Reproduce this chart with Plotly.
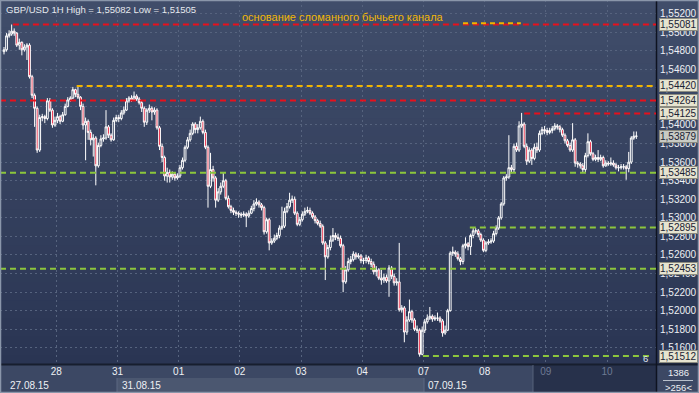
import plotly.graph_objects as go

# ---------------- data ----------------
title_text = "GBP/USD 1H High = 1,55082 Low = 1,51505"
note_text = "основание сломанного бычьего канала"

first_open = 1.5479
close = [
    1.5481, 1.5496, 1.5498, 1.5501, 1.5499, 1.5486, 1.5489, 1.5481, 1.5484, 1.5486,
    1.5452, 1.5432, 1.5418, 1.5373, 1.5408, 1.5409, 1.5407, 1.5426, 1.5416, 1.5400,
    1.5405, 1.5409, 1.5404, 1.5411, 1.5420, 1.5427, 1.5429, 1.5438, 1.5433, 1.5430,
    1.5420, 1.5400, 1.5404, 1.5392, 1.5384, 1.5386, 1.5356, 1.5378, 1.5385, 1.5386,
    1.5398, 1.5389, 1.5384, 1.5405, 1.5408, 1.5407, 1.5413, 1.5416, 1.5426, 1.5429,
    1.5427, 1.5431, 1.5428, 1.5424, 1.5418, 1.5403, 1.5416, 1.5418, 1.5414, 1.5416,
    1.5397, 1.5377, 1.5365, 1.5345, 1.5349, 1.5344, 1.5347, 1.5343, 1.5345, 1.5354,
    1.5362, 1.5376, 1.5384, 1.5391, 1.5401, 1.5395, 1.5397, 1.5404, 1.5392, 1.5376,
    1.5334, 1.5352, 1.5343, 1.5319, 1.5328, 1.5334, 1.5340, 1.5321, 1.5312, 1.5308,
    1.5306, 1.5305, 1.5304, 1.5303, 1.5304, 1.5302, 1.5305, 1.5310, 1.5315, 1.5317,
    1.5314, 1.5311, 1.5285, 1.5298, 1.5273, 1.5275, 1.5278, 1.5281, 1.5289, 1.5291,
    1.5307, 1.5312, 1.5319, 1.5320, 1.5305, 1.5293, 1.5298, 1.5304, 1.5307, 1.5308,
    1.5305, 1.5301, 1.5297, 1.5294, 1.5291, 1.5273, 1.5258, 1.5268, 1.5276, 1.5281,
    1.5279, 1.5278, 1.5270, 1.5231, 1.5244, 1.5253, 1.5255, 1.5261, 1.5258, 1.5259,
    1.5254, 1.5254, 1.5257, 1.5253, 1.5250, 1.5242, 1.5244, 1.5235, 1.5233, 1.5236,
    1.5232, 1.5246, 1.5237, 1.5230, 1.5231, 1.5201, 1.5203, 1.5177, 1.5190, 1.5199,
    1.5190, 1.5180, 1.5179, 1.5153, 1.5179, 1.5188, 1.5192, 1.5194, 1.5191, 1.5192,
    1.5192, 1.5189, 1.5176, 1.5179, 1.5200, 1.5262, 1.5263, 1.5261, 1.5256, 1.5253,
    1.5270, 1.5272, 1.5269, 1.5281, 1.5286, 1.5286, 1.5282, 1.5276, 1.5265, 1.5273,
    1.5274, 1.5275, 1.5283, 1.5289, 1.5300, 1.5315, 1.5343, 1.5344, 1.5354, 1.5352,
    1.5377, 1.5373, 1.5399, 1.5401, 1.5377, 1.5361, 1.5373, 1.5364, 1.5376, 1.5373,
    1.5391, 1.5395, 1.5394, 1.5392, 1.5394, 1.5396, 1.5399, 1.5398, 1.5395, 1.5389,
    1.5383, 1.5378, 1.5373, 1.5384, 1.5359, 1.5358, 1.5356, 1.5352, 1.5367, 1.5382,
    1.5369, 1.5363, 1.5365, 1.5363, 1.5365, 1.5356, 1.5359, 1.5358, 1.5359, 1.5357,
    1.5354, 1.5354, 1.5355, 1.5355, 1.5353, 1.5360, 1.5386, 1.5388, 1.53879,
]
high = [
    1.5484, 1.5499, 1.5502, 1.55082, 1.5504, 1.5500, 1.5493, 1.5490, 1.5487, 1.5488,
    1.5488, 1.5454, 1.5434, 1.5420, 1.5411, 1.5412, 1.5411, 1.5429, 1.5429, 1.5418,
    1.5409, 1.5413, 1.5411, 1.5414, 1.5423, 1.5430, 1.5431, 1.5441, 1.5439, 1.5442,
    1.5431, 1.5423, 1.5408, 1.5406, 1.5395, 1.5390, 1.5388, 1.5381, 1.5389, 1.5390,
    1.5416, 1.5400, 1.5391, 1.5408, 1.5411, 1.5411, 1.5416, 1.5420, 1.5429, 1.5431,
    1.5432, 1.5436, 1.5433, 1.5430, 1.5426, 1.5420, 1.5418, 1.5422, 1.5420, 1.5419,
    1.5418, 1.5399, 1.5380, 1.5367, 1.5354, 1.5352, 1.5350, 1.5349, 1.5348, 1.5357,
    1.5365, 1.5378, 1.5387, 1.5395, 1.5403, 1.5403, 1.5401, 1.5409, 1.5406, 1.5395,
    1.5378, 1.5370, 1.5356, 1.5345, 1.5332, 1.5338, 1.5349, 1.5342, 1.5324, 1.5314,
    1.5311, 1.5308, 1.5307, 1.5306, 1.5307, 1.5306, 1.5308, 1.5313, 1.5319, 1.5321,
    1.5319, 1.5316, 1.5313, 1.5300, 1.5300, 1.5278, 1.5282, 1.5284, 1.5292, 1.5312,
    1.5311, 1.5316, 1.5327, 1.5324, 1.5323, 1.5307, 1.5301, 1.5307, 1.5311, 1.5312,
    1.5311, 1.5307, 1.5303, 1.5299, 1.5297, 1.5293, 1.5275, 1.5271, 1.5281, 1.5289,
    1.5284, 1.5283, 1.5281, 1.5272, 1.5248, 1.5257, 1.5259, 1.5264, 1.5263, 1.5262,
    1.5261, 1.5257, 1.5260, 1.5259, 1.5256, 1.5253, 1.5248, 1.5246, 1.5244, 1.5240,
    1.5239, 1.5249, 1.5248, 1.5240, 1.5235, 1.5273, 1.5206, 1.5205, 1.5194, 1.5212,
    1.5201, 1.5192, 1.5184, 1.5181, 1.5183, 1.5191, 1.5196, 1.5204, 1.5196, 1.5195,
    1.5198, 1.5194, 1.5191, 1.5184, 1.5202, 1.5264, 1.5269, 1.5265, 1.5264, 1.5258,
    1.5272, 1.5279, 1.5274, 1.5283, 1.5289, 1.5289, 1.5288, 1.5284, 1.5278, 1.5275,
    1.5277, 1.5278, 1.5286, 1.5292, 1.5302, 1.5317, 1.5345, 1.5347, 1.5389, 1.5357,
    1.5380, 1.5381, 1.5404, 1.5413, 1.5403, 1.5380, 1.5376, 1.5375, 1.5380, 1.5381,
    1.5394, 1.5398, 1.5399, 1.5397, 1.5397, 1.5399, 1.5402, 1.5401, 1.5400, 1.5397,
    1.5391, 1.5385, 1.5381, 1.5402, 1.5386, 1.5361, 1.5360, 1.5359, 1.5370, 1.5391,
    1.5384, 1.5371, 1.5368, 1.5373, 1.5368, 1.5367, 1.5362, 1.5361, 1.5365, 1.5362,
    1.5359, 1.5357, 1.5358, 1.5358, 1.5357, 1.5371, 1.5388, 1.5393, 1.5393,
]
low = [
    1.5476, 1.5479, 1.5494, 1.5496, 1.5496, 1.5484, 1.5481, 1.5475, 1.5479, 1.5470,
    1.5450, 1.5429, 1.5398, 1.5370, 1.5371, 1.5404, 1.5402, 1.5405, 1.5414, 1.5397,
    1.5398, 1.5402, 1.5401, 1.5403, 1.5410, 1.5419, 1.5425, 1.5428, 1.5430, 1.5428,
    1.5416, 1.5395, 1.5362, 1.5384, 1.5378, 1.5366, 1.5335, 1.5354, 1.5376, 1.5382,
    1.5384, 1.5386, 1.5382, 1.5383, 1.5403, 1.5403, 1.5405, 1.5411, 1.5415, 1.5424,
    1.5425, 1.5426, 1.5426, 1.5422, 1.5414, 1.5398, 1.5400, 1.5413, 1.5405, 1.5411,
    1.5395, 1.5373, 1.5360, 1.5340, 1.5338, 1.5338, 1.5341, 1.5340, 1.5341, 1.5343,
    1.5352, 1.5360, 1.5374, 1.5382, 1.5389, 1.5391, 1.5391, 1.5395, 1.5390, 1.5374,
    1.5311, 1.5332, 1.5339, 1.5311, 1.5317, 1.5325, 1.5332, 1.5319, 1.5310, 1.5305,
    1.5303, 1.5302, 1.5300, 1.5300, 1.5301, 1.5290, 1.5300, 1.5304, 1.5307, 1.5313,
    1.5311, 1.5308, 1.5282, 1.5283, 1.5265, 1.5271, 1.5273, 1.5276, 1.5278, 1.5287,
    1.5289, 1.5305, 1.5310, 1.5316, 1.5303, 1.5291, 1.5291, 1.5296, 1.5302, 1.5305,
    1.5303, 1.5299, 1.5294, 1.5292, 1.5289, 1.5271, 1.5233, 1.5256, 1.5265, 1.5274,
    1.5276, 1.5275, 1.5268, 1.5220, 1.5229, 1.5242, 1.5250, 1.5253, 1.5255, 1.5256,
    1.5251, 1.5250, 1.5251, 1.5250, 1.5247, 1.5239, 1.5237, 1.5233, 1.5228, 1.5230,
    1.5230, 1.5215, 1.5234, 1.5227, 1.5227, 1.5199, 1.5198, 1.5166, 1.5174, 1.5188,
    1.5187, 1.5178, 1.5176, 1.51505, 1.5152, 1.5176, 1.5186, 1.5190, 1.5188, 1.5189,
    1.5189, 1.5187, 1.5172, 1.5174, 1.5178, 1.5199, 1.5259, 1.5258, 1.5254, 1.5249,
    1.5250, 1.5267, 1.5265, 1.5260, 1.5278, 1.5283, 1.5279, 1.5274, 1.5263, 1.5263,
    1.5271, 1.5272, 1.5273, 1.5281, 1.5287, 1.5298, 1.5313, 1.5340, 1.5342, 1.5348,
    1.5349, 1.5371, 1.5371, 1.5397, 1.5375, 1.5357, 1.5359, 1.5357, 1.5362, 1.5370,
    1.5371, 1.5389, 1.5390, 1.5389, 1.5390, 1.5391, 1.5394, 1.5395, 1.5392, 1.5387,
    1.5380, 1.5376, 1.5371, 1.5371, 1.5355, 1.5354, 1.5353, 1.5349, 1.5349, 1.5365,
    1.5367, 1.5361, 1.5361, 1.5360, 1.5361, 1.5354, 1.5355, 1.5356, 1.5356, 1.5355,
    1.5352, 1.5350, 1.5352, 1.5352, 1.5341, 1.5349, 1.5358, 1.5384, 1.5385,
]

day_labels = ["28", "31", "01", "02", "03", "04", "07", "08", "09", "10"]
day_first_bar = [21, 45, 69, 93, 117, 141, 165, 189, 213, 237]
week_labels = ["27.08.15", "31.08.15", "07.09.15"]
week_first_bar = [0, 45, 165]

y_ticks = [1.516, 1.518, 1.520, 1.522, 1.524, 1.526, 1.528, 1.530, 1.532, 1.534,
           1.536, 1.538, 1.540, 1.542, 1.544, 1.546, 1.548, 1.550, 1.552]

level_values = [1.55081, 1.54420, 1.54264, 1.54125, 1.53485, 1.52895, 1.52453, 1.51512]
level_kinds = ["red", "yellow", "red", "red", "green", "green", "green", "green"]
level_from_bar = [3.5, 28.5, None, 204, None, 182.7, None, 164.3]
level_to_bar = [None, None, None, None, None, None, None, 254]
current_price = 1.53879
channel_level = 1.55095
channel_bars = [180, 202.7]
counter_top, counter_bottom = "1386", ">256<"

# ---------------- styling / layout ----------------
W, H = 699, 393
PW, PH = 656, 364            # plot area in px
X_RANGE = [-1.57, 255.7]
Y_RANGE = [1.51426, 1.55346]
FONT = "Liberation Sans"
KIND_COLOR = {"red": "#e8101c", "yellow": "#f0b400", "green": "#8cc63c"}


def pxx(px):
    return px / PW


def pxy(py):
    return (PH - py) / PH


xs = list(range(len(close)))
opens = [first_open] + close[:-1]

fig = go.Figure()
fig.add_trace(go.Candlestick(
    x=xs, open=opens, high=high, low=low, close=close,
    increasing=dict(line=dict(color="#ffffff", width=1), fillcolor="rgba(0,0,0,0)"),
    decreasing=dict(line=dict(color="#ffffff", width=1), fillcolor="#e8102e"),
    whiskerwidth=0, hoverinfo="skip", showlegend=False,
))

shapes = []
# background gradient
NB = 40
top_c = (64, 77, 106)
bot_c = (42, 53, 83)
for k in range(NB):
    t = k / (NB - 1)
    c = tuple(round(top_c[j] + (bot_c[j] - top_c[j]) * t) for j in range(3))
    shapes.append(dict(type="rect", xref="paper", yref="paper",
                       x0=0, x1=pxx(W), y0=1 - (k + 1) / NB - 0.002, y1=1 - k / NB,
                       fillcolor="rgb(%d,%d,%d)" % c, line=dict(width=0), layer="below"))

# x-axis panel backgrounds
def band(x0, x1, y0, y1, col):
    shapes.append(dict(type="rect", xref="paper", yref="paper",
                       x0=pxx(x0), x1=pxx(x1), y0=pxy(y1), y1=pxy(y0),
                       fillcolor=col, line=dict(width=0), layer="below"))

band(0, W, 364, H, "#3c4864")
band(117, 424, 378, H, "#4b5770")
band(533, 656, 364, H, "#27314b")
band(656, W, 364, H, "#3c4864")

def line_px(x0, y0, x1, y1, col, w):
    shapes.append(dict(type="line", xref="paper", yref="paper",
                       x0=pxx(x0), x1=pxx(x1), y0=pxy(y0), y1=pxy(y1),
                       line=dict(color=col, width=w), layer="above"))

line_px(0, 364.5, W, 364.5, "#171e2e", 2)
line_px(656.5, 0, 656.5, H, "#0e1320", 1.5)
line_px(117, 378, 117, H, "#5d6982", 1)
line_px(424, 378, 424, H, "#5d6982", 1)
line_px(533, 365, 533, H, "#56627a", 1)
line_px(663, 380.5, 693, 380.5, "#b8c0cc", 1)

# level lines
for v, kind, a, b in zip(level_values, level_kinds, level_from_bar, level_to_bar):
    shapes.append(dict(type="line", xref="x", yref="y",
                       x0=X_RANGE[0] if a is None else a,
                       x1=X_RANGE[1] if b is None else b,
                       y0=v, y1=v,
                       line=dict(color=KIND_COLOR[kind], width=2, dash="6px,4px"),
                       layer="above"))
shapes.append(dict(type="line", xref="x", yref="y", x0=channel_bars[0], x1=channel_bars[1],
                   y0=channel_level, y1=channel_level,
                   line=dict(color=KIND_COLOR["yellow"], width=2, dash="5px,4px"),
                   layer="above"))

# outer frame
shapes.append(dict(type="rect", xref="paper", yref="paper",
                   x0=pxx(0.5), x1=pxx(W - 0.5), y0=pxy(H - 0.5), y1=pxy(0.5),
                   line=dict(color="#8a96aa", width=1.5), fillcolor="rgba(0,0,0,0)",
                   layer="above"))

annotations = []
annotations.append(dict(text=title_text, xref="paper", yref="paper",
                        x=pxx(4), y=pxy(2), xanchor="left", yanchor="top",
                        showarrow=False, font=dict(family=FONT, size=9.5, color="#e6e9ee")))
annotations.append(dict(text=note_text, xref="paper", yref="paper",
                        x=pxx(240), y=pxy(17), xanchor="left", yanchor="middle",
                        showarrow=False, font=dict(family=FONT, size=11, color="#f2b705")))

# price boxes on right axis
box_vals = level_values + [current_price]
for v in box_vals:
    is_cur = v == current_price
    annotations.append(dict(
        text=("%.5f" % v).replace(".", ","), xref="paper", yref="y",
        x=pxx(659), y=v, xanchor="left", yanchor="middle", showarrow=False,
        bgcolor="#c8cac4" if is_cur else "#e6e4d0", bordercolor="#8c8c80", borderwidth=1,
        borderpad=0, font=dict(family=FONT, size=10, color="#1a2234")))
fig.add_trace(go.Scatter(
    x=[256.0] * len(box_vals), y=box_vals, mode="markers", cliponaxis=False,
    marker=dict(symbol="triangle-left", size=8,
                color=["#c8cac4" if v == current_price else "#e6e4d0" for v in box_vals]),
    hoverinfo="skip", showlegend=False))

# week/date labels (second row)
for lab, b in zip(week_labels, week_first_bar):
    annotations.append(dict(text=lab, xref="x", yref="paper",
                            x=(X_RANGE[0] if b == 0 else b - 0.5), y=pxy(385.5),
                            xanchor="left", yanchor="middle", xshift=(8 if b == 0 else 3),
                            showarrow=False,
                            font=dict(family=FONT, size=10, color="#eef0f4")))

annotations.append(dict(text=counter_top, xref="paper", yref="paper", x=pxx(678), y=pxy(373),
                        xanchor="center", yanchor="middle", showarrow=False,
                        font=dict(family=FONT, size=9.5, color="#eef0f4")))
annotations.append(dict(text=counter_bottom, xref="paper", yref="paper", x=pxx(678), y=pxy(387),
                        xanchor="center", yanchor="middle", showarrow=False,
                        font=dict(family=FONT, size=9.5, color="#eef0f4")))
annotations.append(dict(text="6", xref="paper", yref="paper", x=pxx(645), y=pxy(358),
                        xanchor="center", yanchor="middle", showarrow=False,
                        font=dict(family=FONT, size=9.5, color="#dfe4ec")))

tick_text = []
for lab, b in zip(day_labels, day_first_bar):
    if b >= 213:
        tick_text.append('<span style="color:#6e7a94">%s</span>' % lab)
    else:
        tick_text.append(lab)

fig.update_layout(
    width=W, height=H,
    margin=dict(l=0, r=W - PW, t=0, b=H - PH, pad=0, autoexpand=False),
    paper_bgcolor="#2f3a57", plot_bgcolor="rgba(0,0,0,0)",
    separators=", ",
    showlegend=False,
    boxgap=0.0,
    shapes=shapes, annotations=annotations,
    font=dict(family=FONT, size=10, color="#eef0f4"),
    xaxis=dict(range=X_RANGE, rangeslider=dict(visible=False),
               tickmode="array", tickvals=[b - 0.5 for b in day_first_bar], ticktext=tick_text,
               showgrid=True, gridcolor="#56637e", griddash="2px,3px", gridwidth=1,
               zeroline=False, showline=False, ticks="",
               tickfont=dict(family=FONT, size=10, color="#eef0f4"), fixedrange=True),
    yaxis=dict(range=Y_RANGE, side="right", tickmode="array", tickvals=y_ticks,
               tickformat=".5f", showgrid=True, gridcolor="#56637e", griddash="2px,3px",
               gridwidth=1, zeroline=False, showline=False, ticks="",
               ticklabelstandoff=3,
               tickfont=dict(family=FONT, size=10, color="#eef0f4"), fixedrange=True),
)

fig.write_html("out.html")
